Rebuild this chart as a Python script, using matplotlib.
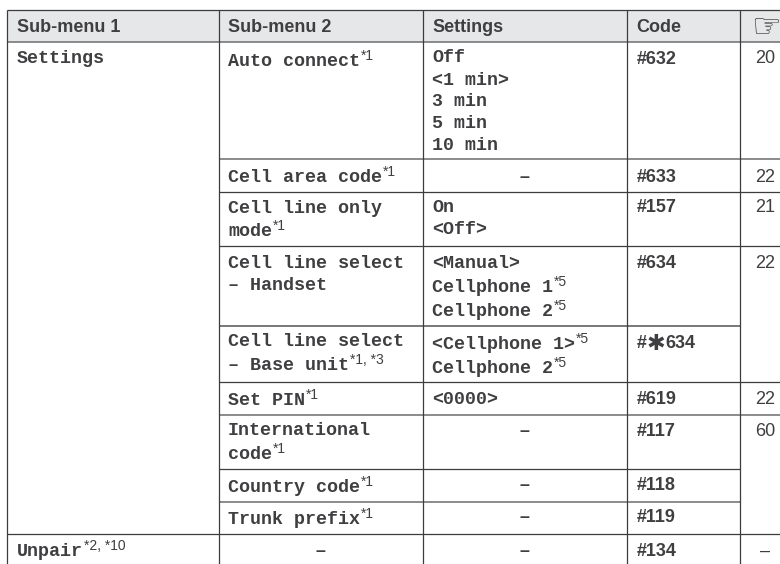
import matplotlib

matplotlib.use("Agg")
import matplotlib.pyplot as plt

W, H = 780, 564
MONO = "Liberation Mono"
SANS = "Liberation Sans"
DARK = "#3f3f41"
LINE = "#3c3c3e"
SOFT = "#77787a"
HEAD = "#e6e7e8"

headers = ["Sub-menu 1", "Sub-menu 2", "Settings", "Code"]
hand = "\u261e"

# (text, footnote, baseline)
menu1 = [("Settings", "", 63), ("Unpair", "*2, *10", 556.5)]
menu2 = [
    ("Auto connect", "*1", 65.5),
    ("Cell area code", "*1", 181.5),
    ("Cell line only", "", 213),
    ("mode", "*1", 236.5),
    ("Cell line select", "", 267.5),
    ("\u2013 Handset", "", 289.5),
    ("Cell line select", "", 346.5),
    ("\u2013 Base unit", "*1, *3", 370),
    ("Set PIN", "*1", 405),
    ("International", "", 435),
    ("code", "*1", 459),
    ("Country code", "*1", 491.5),
    ("Trunk prefix", "*1", 524.5),
]
settings = [
    ("Off", "", 62),
    ("<1 min>", "", 85),
    ("3 min", "", 106.5),
    ("5 min", "", 128),
    ("10 min", "", 149.5),
    ("On", "", 212.5),
    ("<Off>", "", 233.5),
    ("<Manual>", "", 267.5),
    ("Cellphone 1", "*5", 291.5),
    ("Cellphone 2", "*5", 315.5),
    ("<Cellphone 1>", "*5", 349),
    ("Cellphone 2", "*5", 373),
    ("<0000>", "", 403.5),
]
dash_settings = [181.5, 436.5, 490.5, 522.5, 556]
dash_menu2 = [556]
codes = [
    ("#632", 63.5), ("#633", 181.5), ("#157", 212.5), ("#634", 267.5),
    ("#619", 403.5), ("#117", 436.5), ("#118", 490.5),
    ("#119", 522.5), ("#134", 556),
]
star_code = ("#", "\u2731", "634", 348)
pages = [("20", 63), ("22", 181.5), ("21", 212.5), ("22", 267.5), ("22", 403.5), ("60", 436.5), ("\u2013", 556)]

col_x = [7, 218.5, 422.5, 626.5, 740]
text_x = [17, 228, 432, 636.5]
page_x = 765
# y, x start, x end, colour, width
rules = [
    (10, 7, 780, LINE, 0.9), (42, 7, 780, SOFT, 1.2), (159, 218.5, 780, SOFT, 1.2),
    (192, 218.5, 780, LINE, 0.9), (246, 218.5, 780, LINE, 0.9), (326, 218.5, 740, SOFT, 1.4),
    (382, 218.5, 780, LINE, 0.9), (414.5, 218.5, 780, SOFT, 1.2), (469, 218.5, 740, LINE, 0.9),
    (501.5, 218.5, 740, SOFT, 1.2), (534, 7, 780, LINE, 0.9),
]


def put_row(ax, x, row):
    label, note, y = row
    t = ax.text(x, y, label, family=MONO, weight="bold", fontsize=13.25, color=DARK, va="baseline")
    if note:
        box = t.get_window_extent(ax.figure.canvas.get_renderer())
        ax.text(box.x1 + 1, y - 6, note, family=SANS, fontsize=10, color=DARK, va="baseline")


def main() -> None:
    fig = plt.figure(figsize=(W / 100, H / 100), dpi=100)
    ax = fig.add_axes([0, 0, 1, 1])
    ax.set_xlim(0, W)
    ax.set_ylim(H, 0)
    ax.axis("off")

    ax.fill_between([7, 780], 10, 42, color=HEAD, lw=0)
    for y, x0, x1, color, lw in rules:
        ax.plot([x0, x1], [y, y], color=color, lw=lw, solid_capstyle="butt")
    for x in col_x:
        ax.plot([x, x], [10, H], color=LINE, lw=0.9, solid_capstyle="butt")

    for x, label in zip(text_x, headers):
        ax.text(x, 32, label, family=SANS, weight="bold", fontsize=13, color=DARK, va="baseline")
    ax.text(page_x + 1, 37, hand, family="DejaVu Sans", fontsize=24, color=DARK, ha="center", va="baseline")

    for row in menu1:
        put_row(ax, text_x[0], row)
    for row in menu2:
        put_row(ax, text_x[1], row)
    for row in settings:
        put_row(ax, text_x[2], row)
    for y in dash_settings:
        ax.text(524, y, "\u2013", family=SANS, weight="bold", fontsize=13, color=DARK, ha="center", va="baseline")
    for y in dash_menu2:
        ax.text(320, y, "\u2013", family=SANS, weight="bold", fontsize=13, color=DARK, ha="center", va="baseline")
    for label, y in codes:
        ax.text(text_x[3], y, label, family=SANS, weight="bold", fontsize=13, color=DARK, va="baseline")
    pre, star, post, y = star_code
    ax.text(text_x[3], y, pre, family=SANS, weight="bold", fontsize=13, color=DARK, va="baseline")
    ax.text(655.5, y + 2, star, family="DejaVu Sans", weight="bold", fontsize=16, color=DARK, ha="center", va="baseline")
    ax.text(665, y, post, family=SANS, weight="bold", fontsize=13, color=DARK, va="baseline")
    for label, y in pages:
        ax.text(page_x, y, label, family=SANS, fontsize=13, color=DARK, ha="center", va="baseline")

    fig.savefig("out.png", dpi=100)
    plt.close(fig)


if __name__ == "__main__":
    main()
